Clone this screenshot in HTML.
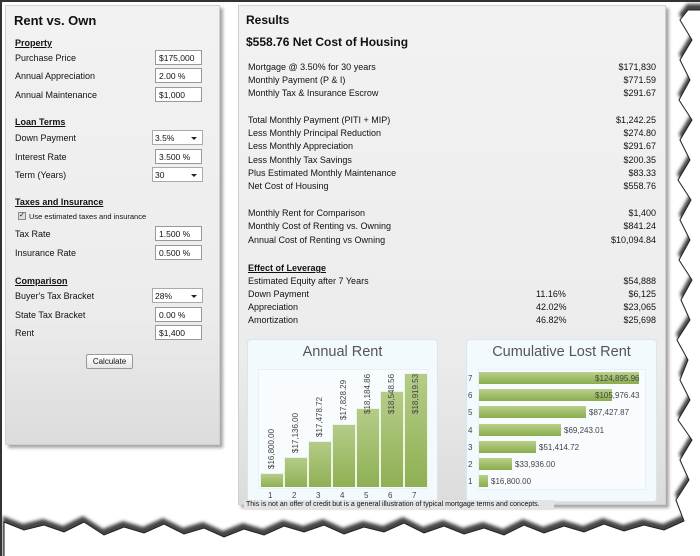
<!DOCTYPE html>
<html><head><style>
*{margin:0;padding:0;box-sizing:border-box}
body{width:700px;height:556px;background:#fff;position:relative;overflow:hidden;font-family:"Liberation Sans",Arial,sans-serif;font-size:9px;color:#111}
#frame{position:absolute;left:0;top:0;width:700px;height:556px;background:#fff;border-left:2px solid #333;border-top:2px solid #333}
.panel{position:absolute;background:linear-gradient(#f2f2f2 0%,#ececec 70%,#dcdcdc 100%);border:1px solid #d0d0d0;box-shadow:3px 3px 3px rgba(0,0,0,.35)}
.a{position:absolute;white-space:nowrap}
.h{font-weight:bold;text-decoration:underline;font-size:9px}
.in{position:absolute;height:15px;border:1px solid #999;background:#fff;font-size:8.5px;padding:2px 3px;width:47px}
.sel{position:absolute;height:15px;border:1px solid #aaa;background:#fff;font-size:8.5px;padding:2px 2px;width:51px}
.sel:after{content:"";position:absolute;right:5px;top:6px;border:3px solid transparent;border-top:3px solid #222}
.r{position:absolute;right:0;text-align:right}
.row{position:absolute;left:248px;width:408px;height:12px}
.cp{position:absolute;background:#f3fafd;border:1px solid #d8e6ee;border-radius:4px}
.bar{position:absolute;background:linear-gradient(#b4cc88,#8fb054);border:1px solid #eef4e2;border-bottom:none}
.hb{position:absolute;height:12px;background:linear-gradient(#b8d08c,#8aac4c)}
</style></head><body>
<div id="frame"></div>
<div class="panel" style="left:5px;top:5px;width:215px;height:440px"></div>
<div class="a" style="left:14px;top:13px;font-size:13px;font-weight:bold">Rent vs. Own</div>
<div class="a h" style="left:15px;top:38px">Property</div>
<div class="a" style="left:15px;top:53px">Purchase Price</div><div class="in" style="left:155px;top:50px">$175,000</div>
<div class="a" style="left:15px;top:71px">Annual Appreciation</div><div class="in" style="left:155px;top:68px">2.00 %</div>
<div class="a" style="left:15px;top:90px">Annual Maintenance</div><div class="in" style="left:155px;top:87px">$1,000</div>
<div class="a h" style="left:15px;top:117px">Loan Terms</div>
<div class="a" style="left:15px;top:133px">Down Payment</div><div class="sel" style="left:152px;top:130px">3.5%</div>
<div class="a" style="left:15px;top:152px">Interest Rate</div><div class="in" style="left:155px;top:149px">3.500 %</div>
<div class="a" style="left:15px;top:170px">Term (Years)</div><div class="sel" style="left:152px;top:167px">30</div>
<div class="a h" style="left:15px;top:197px">Taxes and Insurance</div>
<div class="a" style="left:18px;top:212px;width:8px;height:8px;border:1px solid #888;background:#ddd;font-size:7px;line-height:6px">✓</div>
<div class="a" style="left:29px;top:212px;font-size:7.5px">Use estimated taxes and insurance</div>
<div class="a" style="left:15px;top:229px">Tax Rate</div><div class="in" style="left:155px;top:226px">1.500 %</div>
<div class="a" style="left:15px;top:248px">Insurance Rate</div><div class="in" style="left:155px;top:245px">0.500 %</div>
<div class="a h" style="left:15px;top:276px">Comparison</div>
<div class="a" style="left:15px;top:291px">Buyer's Tax Bracket</div><div class="sel" style="left:152px;top:288px">28%</div>
<div class="a" style="left:15px;top:310px">State Tax Bracket</div><div class="in" style="left:155px;top:307px">0.00 %</div>
<div class="a" style="left:15px;top:328px">Rent</div><div class="in" style="left:155px;top:325px">$1,400</div>
<div class="a" style="left:86px;top:354px;width:47px;height:15px;border:1px solid #999;border-radius:2px;background:linear-gradient(#fff,#e6e6e6);font-size:8px;text-align:center;line-height:13px">Calculate</div>

<div class="panel" style="left:238px;top:5px;width:428px;height:500px"></div>
<div class="a" style="left:246px;top:13px;font-size:12px;font-weight:bold">Results</div>
<div class="a" style="left:246px;top:35px;font-size:12px;font-weight:bold">$558.76 Net Cost of Housing</div>

<div class="row" style="top:62px">Mortgage @ 3.50% for 30 years<span class="r">$171,830</span></div>
<div class="row" style="top:75px">Monthly Payment (P &amp; I)<span class="r">$771.59</span></div>
<div class="row" style="top:88px">Monthly Tax &amp; Insurance Escrow<span class="r">$291.67</span></div>
<div class="row" style="top:115px">Total Monthly Payment (PITI + MIP)<span class="r">$1,242.25</span></div>
<div class="row" style="top:128px">Less Monthly Principal Reduction<span class="r">$274.80</span></div>
<div class="row" style="top:141px">Less Monthly Appreciation<span class="r">$291.67</span></div>
<div class="row" style="top:155px">Less Monthly Tax Savings<span class="r">$200.35</span></div>
<div class="row" style="top:168px">Plus Estimated Monthly Maintenance<span class="r">$83.33</span></div>
<div class="row" style="top:181px">Net Cost of Housing<span class="r">$558.76</span></div>
<div class="row" style="top:208px">Monthly Rent for Comparison<span class="r">$1,400</span></div>
<div class="row" style="top:221px">Monthly Cost of Renting vs. Owning<span class="r">$841.24</span></div>
<div class="row" style="top:235px">Annual Cost of Renting vs Owning<span class="r">$10,094.84</span></div>
<div class="row h" style="top:263px">Effect of Leverage</div>
<div class="row" style="top:276px">Estimated Equity after 7 Years<span class="r">$54,888</span></div>
<div class="row" style="top:289px">Down Payment<span class="a" style="left:288px">11.16%</span><span class="r">$6,125</span></div>
<div class="row" style="top:302px">Appreciation<span class="a" style="left:288px">42.02%</span><span class="r">$23,065</span></div>
<div class="row" style="top:315px">Amortization<span class="a" style="left:288px">46.82%</span><span class="r">$25,698</span></div>

<div class="cp" style="left:247px;top:339px;width:191px;height:163px"></div>
<div class="a" style="left:247px;width:191px;top:344px;text-align:center;font-size:14.5px;color:#555">Annual Rent</div>
<div class="a" style="left:258px;top:369px;width:170px;height:120px;background:#f8fcfe;border:1px solid #e8f0f4"></div>
<div class="bar" style="left:260px;top:473px;width:24px;height:14px"></div>
<div class="bar" style="left:284px;top:457px;width:24px;height:30px"></div>
<div class="bar" style="left:308px;top:441px;width:24px;height:46px"></div>
<div class="bar" style="left:332px;top:424px;width:24px;height:63px"></div>
<div class="bar" style="left:356px;top:408px;width:24px;height:79px"></div>
<div class="bar" style="left:380px;top:391px;width:24px;height:96px"></div>
<div class="bar" style="left:404px;top:373px;width:24px;height:114px"></div>
<svg class="a" style="left:0;top:0" width="700" height="556">
<g font-family="Liberation Sans,sans-serif" font-size="8" fill="#444">
<text transform="translate(274,469) rotate(-90)">$16,800.00</text>
<text transform="translate(298,453) rotate(-90)">$17,136.00</text>
<text transform="translate(322,437) rotate(-90)">$17,478.72</text>
<text transform="translate(346,420) rotate(-90)">$17,828.29</text>
<text transform="translate(370,414) rotate(-90)">$18,184.86</text>
<text transform="translate(394,414) rotate(-90)">$18,548.56</text>
<text transform="translate(418,414) rotate(-90)">$18,919.53</text>
<text x="268" y="498">1</text><text x="292" y="498">2</text><text x="316" y="498">3</text><text x="340" y="498">4</text><text x="364" y="498">5</text><text x="388" y="498">6</text><text x="412" y="498">7</text>
</g></svg>

<div class="cp" style="left:466px;top:339px;width:191px;height:163px"></div>
<div class="a" style="left:466px;width:191px;top:344px;text-align:center;font-size:14.5px;color:#555">Cumulative Lost Rent</div>
<div class="a" style="left:478px;top:369px;width:168px;height:121px;background:#f8fcfe;border:1px solid #e8f0f4"></div>
<div class="hb" style="left:479px;top:372px;width:160px"></div>
<div class="hb" style="left:479px;top:389px;width:133px"></div>
<div class="hb" style="left:479px;top:406px;width:107px"></div>
<div class="hb" style="left:479px;top:424px;width:82px"></div>
<div class="hb" style="left:479px;top:441px;width:57px"></div>
<div class="hb" style="left:479px;top:458px;width:33px"></div>
<div class="hb" style="left:479px;top:475px;width:9px"></div>
<svg class="a" style="left:0;top:0" width="700" height="556">
<g font-family="Liberation Sans,sans-serif" font-size="8" fill="#444">
<text x="468" y="381">7</text><text x="468" y="398">6</text><text x="468" y="415">5</text><text x="468" y="433">4</text><text x="468" y="450">3</text><text x="468" y="467">2</text><text x="468" y="484">1</text>
<text x="595" y="381">$124,895.96</text>
<text x="595" y="398">$105,976.43</text>
<text x="589" y="415">$87,427.87</text>
<text x="564" y="433">$69,243.01</text>
<text x="539" y="450">$51,414.72</text>
<text x="515" y="467">$33,936.00</text>
<text x="491" y="484">$16,800.00</text>
</g></svg>
<div class="a" style="left:244px;top:500px;width:310px;height:10px;background:#e4e4e4;font-size:7px;line-height:10px;padding-left:2px">This is not an offer of credit but is a general illustration of typical mortgage terms and concepts.</div>

<svg class="a" style="left:0;top:0" width="700" height="556">
<defs><filter id="s"><feGaussianBlur stdDeviation="1.5"/></filter></defs>
<path d="M0,512 L20,520 L40,515 L60,522 L80,512 L100,525 L120,517 L140,523 L160,514 L180,524 L200,518 L220,527 L240,519 L260,525 L280,516 L300,522 L320,515 L340,524 L360,517 L380,522 L400,513 L420,523 L440,516 L460,524 L480,518 L500,525 L520,515 L540,523 L560,516 L580,522 L600,514 L620,521 L640,515 L660,520 L680,511 L672,490 L685,470 L676,450 L688,430 L674,410 L686,390 L676,370 L684,350 L673,330 L686,310 L677,290 L688,270 L675,250 L686,230 L676,210 L687,190 L674,170 L686,150 L676,130 L688,110 L675,90 L686,70 L676,50 L688,30 L676,10 L684,0 L700,0 L700,556 L0,556 Z" fill="#444" filter="url(#s)" transform="translate(3,4)"/>
<path d="M0,512 L20,520 L40,515 L60,522 L80,512 L100,525 L120,517 L140,523 L160,514 L180,524 L200,518 L220,527 L240,519 L260,525 L280,516 L300,522 L320,515 L340,524 L360,517 L380,522 L400,513 L420,523 L440,516 L460,524 L480,518 L500,525 L520,515 L540,523 L560,516 L580,522 L600,514 L620,521 L640,515 L660,520 L680,511 L672,490 L685,470 L676,450 L688,430 L674,410 L686,390 L676,370 L684,350 L673,330 L686,310 L677,290 L688,270 L675,250 L686,230 L676,210 L687,190 L674,170 L686,150 L676,130 L688,110 L675,90 L686,70 L676,50 L688,30 L676,10 L684,0 L700,0 L700,556 L0,556 Z" fill="#fff" stroke="#222" stroke-width="1" transform="translate(4,10)"/>
</svg>
</body></html>
